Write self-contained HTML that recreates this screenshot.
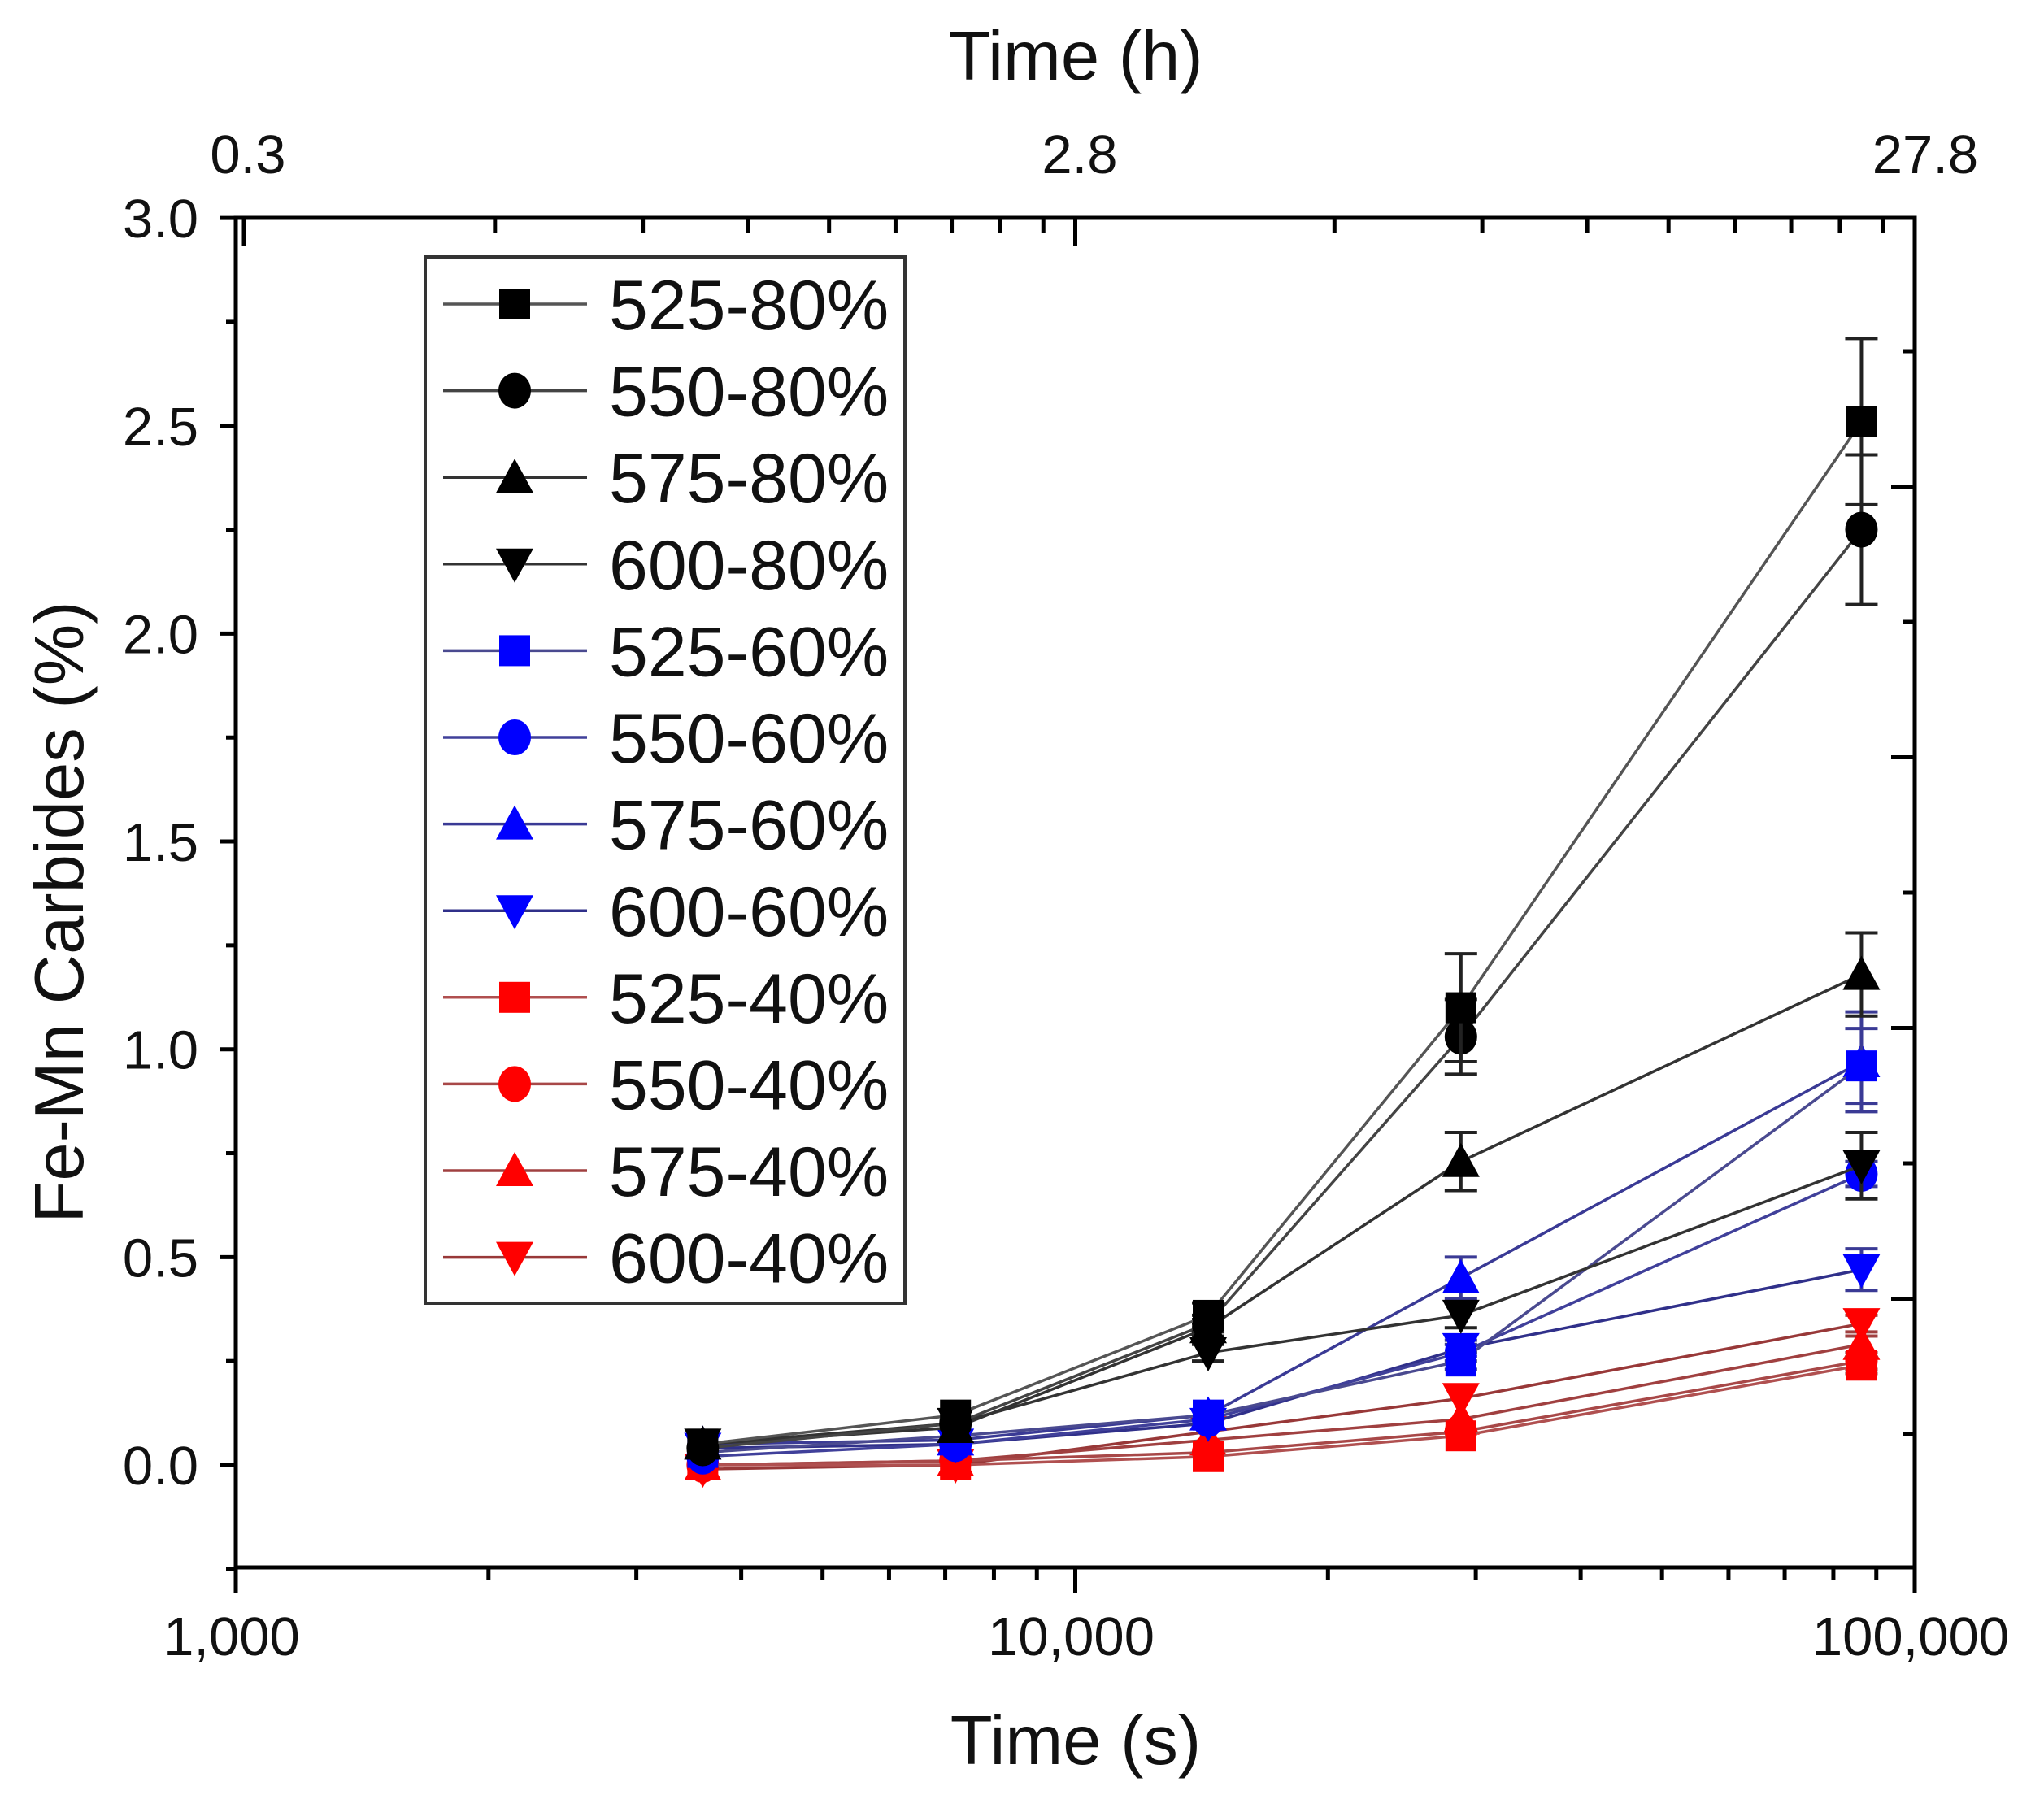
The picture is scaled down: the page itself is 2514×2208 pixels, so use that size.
<!DOCTYPE html>
<html><head><meta charset="utf-8"><style>
html,body{margin:0;padding:0;background:#fff;}
svg{display:block;font-family:"Liberation Sans",Arial,sans-serif;}
</style></head><body>
<svg id="chart" width="2514" height="2208" viewBox="0 0 2514 2208" xmlns="http://www.w3.org/2000/svg">
<rect x="0" y="0" width="2514" height="2208" fill="#fff"/>
<g id="grid"></g>
<g id="series"></g>
<g id="axes"></g>
<g id="legend"></g>
</svg>
<script>
const times = [3600, 7200, 14400, 28800, 86400];
const seriesNames = ["525-80%","550-80%","575-80%","600-80%","525-60%","550-60%","575-60%","600-60%","525-40%","550-40%","575-40%","600-40%"];
const v525_80 = [0.05, 0.12, 0.36, 1.10, 2.51];
const v550_80 = [0.04, 0.10, 0.34, 1.03, 2.25];
const v575_80 = [0.05, 0.09, 0.33, 0.73, 1.18];
const v600_80 = [0.05, 0.10, 0.27, 0.36, 0.72];
const v525_60 = [0.03, 0.07, 0.12, 0.25, 0.96];
const v550_60 = [0.02, 0.05, 0.11, 0.27, 0.70];
const v575_60 = [0.05, 0.06, 0.12, 0.45, 0.97];
const v600_60 = [0.04, 0.05, 0.10, 0.28, 0.47];
const v525_40 = [0.00, 0.00, 0.02, 0.07, 0.24];
const v550_40 = [0.00, 0.01, 0.03, 0.08, 0.25];
const v575_40 = [0.00, 0.01, 0.06, 0.11, 0.29];
const v600_40 = [-0.01, 0.00, 0.08, 0.16, 0.34];
const e525_80 = [0, 0, 0.03, 0.13, 0.20];
const e550_80 = [0, 0, 0.02, 0.09, 0.18];
const e575_80 = [0, 0, 0.02, 0.07, 0.10];
const e600_80 = [0, 0, 0.02, 0.03, 0.08];
const e525_60 = [0, 0, 0.01, 0.02, 0.09];
const e550_60 = [0, 0, 0.01, 0.02, 0.03];
const e575_60 = [0, 0, 0.01, 0.05, 0.12];
const e600_60 = [0, 0, 0.01, 0.02, 0.05];
const e525_40 = [0, 0, 0, 0.01, 0.02];
const e550_40 = [0, 0, 0, 0.01, 0.02];
const e575_40 = [0, 0, 0, 0.01, 0.02];
const e600_40 = [0, 0, 0, 0.01, 0.02];
const yTicks = [0.0, 0.5, 1.0, 1.5, 2.0, 2.5, 3.0];
const yTickLabels = ["0.0","0.5","1.0","1.5","2.0","2.5","3.0"];
const xTicks = [1000, 10000, 100000];
const xTickLabels = ["1,000","10,000","100,000"];
const topTickLabels = ["0.3","2.8","27.8"];

const values = [v525_80,v550_80,v575_80,v600_80,v525_60,v550_60,v575_60,v600_60,v525_40,v550_40,v575_40,v600_40];
const errs = [e525_80,e550_80,e575_80,e600_80,e525_60,e550_60,e575_60,e600_60,e525_40,e550_40,e575_40,e600_40];
const shapes = ["square","circle","up","down"];
const L=290,R=2355,T=268,B=1928;
function xs(t){return L+(Math.log10(t)-3)*(R-L)/2;}
function ys(v){return 1802 - v*511.3;}
const NS="http://www.w3.org/2000/svg";
function mk(tag,attrs,parent){const e=document.createElementNS(NS,tag);for(const k in attrs)e.setAttribute(k,attrs[k]);parent.appendChild(e);return e;}
const gS=document.getElementById('series'),gA=document.getElementById('axes'),gL=document.getElementById('legend');
function marker(shape,cx,cy,fill,parent){
  const s=21;let e;
  if(shape==="square") e=mk('rect',{x:cx-s+2,y:cy-s+2,width:2*s-4,height:2*s-4,fill:fill},parent);
  else if(shape==="circle") e=mk('ellipse',{cx:cx,cy:cy,rx:s-1,ry:s+1,fill:fill},parent);
  else if(shape==="up") e=mk('polygon',{points:`${cx},${cy-s-2} ${cx+s+2},${cy+s-2} ${cx-s-2},${cy+s-2}`,fill:fill},parent);
  else e=mk('polygon',{points:`${cx},${cy+s+2} ${cx+s+2},${cy-s+2} ${cx-s-2},${cy-s+2}`,fill:fill},parent);
  return e;
}
const lineCols=["#555","#444","#333","#333","#4a4a90","#40409a","#3a3a95","#30308a","#b05050","#a84848","#a04040","#983838"];
const fillCols=["#000","#000","#000","#000","#0000ff","#0000ff","#0000ff","#0000ff","#ff0000","#ff0000","#ff0000","#ff0000"];
for(let si=values.length-1;si>=0;si--){
  const g=mk('g',{},gS);
  
  
  const pts=times.map((t,i)=>`${xs(t)},${ys(values[si][i])}`).join(' ');
  const pl=mk('polyline',{points:pts,fill:'none',stroke:lineCols[si],'stroke-width':3.5},g);
  
  
  times.forEach((t,i)=>{
    const er=errs[si][i];
    if(er>0.015){
      const x=xs(t),y1=ys(values[si][i]+er),y2=ys(values[si][i]-er);
      const col=si<4?"#222":(si<8?"#3a3a95":"#a04040");
      const eb=mk('path',{d:`M${x},${y1}V${y2}M${x-20},${y1}H${x+20}M${x-20},${y2}H${x+20}`,stroke:col,'stroke-width':4,fill:'none'},g);
      
      
    }
    const m=marker(shapes[si%4],xs(t),ys(values[si][i]),fillCols[si],g);
    
    
  });
}
const frame=mk('rect',{x:L,y:T,width:R-L,height:B-T,fill:'none',stroke:'#000','stroke-width':5},gA);


yTicks.forEach((v,i)=>{
  mk('line',{x1:L-20,x2:L,y1:ys(v),y2:ys(v),stroke:'#000','stroke-width':5},gA);
  if(i<yTicks.length-1) mk('line',{x1:L-12,x2:L,y1:ys(v+0.25),y2:ys(v+0.25),stroke:'#000','stroke-width':5},gA);
  const t=mk('text',{x:244,y:ys(v)+24,'font-size':67,'text-anchor':'end',fill:'#111'},gA);
  t.textContent=yTickLabels[i];
  
  
});
mk('line',{x1:L-12,x2:L,y1:ys(-0.25),y2:ys(-0.25),stroke:'#000','stroke-width':5},gA);
for(let d=3;d<5;d++){
  for(let k=2;k<10;k++){
    const x=xs(k*Math.pow(10,d));
    mk('line',{x1:x,x2:x,y1:B,y2:B+16,stroke:'#000','stroke-width':5},gA);
    mk('line',{x1:x+8,x2:x+8,y1:T,y2:T+18,stroke:'#000','stroke-width':5},gA);
  }
}
xTicks.forEach((t,i)=>{
  const x=xs(t);
  mk('line',{x1:x,x2:x,y1:B,y2:B+32,stroke:'#000','stroke-width':5},gA);
  mk('line',{x1:x+(i===0?10:0),x2:x+(i===0?10:0),y1:T,y2:T+35,stroke:'#000','stroke-width':5},gA);
  const tl=mk('text',{x:x-5,y:2036,'font-size':67,'text-anchor':'middle',fill:'#111'},gA);
  tl.textContent=xTickLabels[i];
  
  
  const tt=mk('text',{x:i===0?305:(i===1?1328:2368),y:213,'font-size':67,'text-anchor':'middle',fill:'#111'},gA);
  tt.textContent=topTickLabels[i];
  
  
});
for(let j=0;j<9;j++){
  const y=1764-j*166.5;
  const len=j%2===0?14:29;
  mk('line',{x1:R-len,x2:R,y1:y,y2:y,stroke:'#000','stroke-width':5},gA);
}
</script>
<svg style="position:absolute;left:0;top:0" width="2514" height="2208">
<text x="1323" y="2170" font-size="85" text-anchor="middle" font-family="Liberation Sans, sans-serif" fill="#111">Time (s)</text>
<text x="1323" y="98" font-size="85" text-anchor="middle" font-family="Liberation Sans, sans-serif" fill="#111">Time (h)</text>
<text transform="translate(102,1122) rotate(-90)" font-size="85" text-anchor="middle" font-family="Liberation Sans, sans-serif" fill="#111">Fe-Mn Carbides (%)</text>
</svg>
<script>
(function(){
const gL2=document.getElementById('legend');
const box=mk('rect',{x:523,y:316,width:590,height:1287,fill:'#fff',stroke:'#333','stroke-width':4},gL2);


seriesNames.forEach((n,i)=>{
  const y=374+i*106.6;
  const g=mk('g',{},gL2);
  
  
  mk('line',{x1:545,x2:722,y1:y,y2:y,stroke:lineCols[i],'stroke-width':3.5},g);
  marker(shapes[i%4],633,y,fillCols[i],g);
  const t=mk('text',{x:749,y:y+31,'font-size':86,fill:'#111'},g);
  t.textContent=n;
})
})();
</script>
</body></html>
